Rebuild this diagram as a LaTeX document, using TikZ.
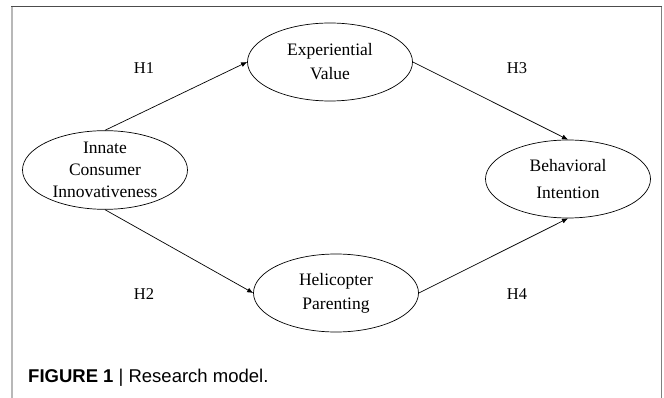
\documentclass[tikz,border=0pt]{standalone}
\usepackage{fontspec}
\setmainfont{Liberation Serif}
\setsansfont{Liberation Sans}
\usetikzlibrary{shapes.geometric,arrows.meta}
\begin{document}
\begin{tikzpicture}[x=1pt,y=-1pt,
  construct/.style={ellipse,draw,line width=0.7pt,minimum width=165pt,minimum height=78pt,inner sep=0pt,align=center,font=\fontsize{17.5}{24}\selectfont},
  hyp/.style={font=\fontsize{16.5}{20}\selectfont},
  link/.style={line width=0.7pt,-{Latex[length=6pt,width=5pt]}}]
\useasboundingbox (0,0) rectangle (664,398);
% frame
\draw[line width=2pt,color=black!28] (12,6) -- (12,398);
\draw[line width=1pt,color=black!50] (661.5,6) -- (661.5,398);
\draw[line width=1.5pt,color=black!70] (11,6.5) -- (662,6.5);
% constructs
\node[construct] (exp) at (330,62) {Experiential\\Value};
\node[construct,font=\fontsize{17.5}{22}\selectfont] (ici) at (105,170) {Innate\\Consumer\\Innovativeness};
\node[construct,font=\fontsize{17.5}{27}\selectfont] (bi) at (568,179) {Behavioral\\Intention};
\node[construct] (hp) at (336,293) {Helicopter\\Parenting};
% links
\draw[link] (ici.north) -- (exp.west);
\draw[link] (ici.south) -- (hp.west);
\draw[link] (exp.east) -- (bi.north);
\draw[link] (hp.east) -- (bi.south);
% labels
\node[hyp] (h1) at (144,68) {H1};
\node[hyp] (h3) at (517,68) {H3};
\node[hyp] (h2) at (144,294) {H2};
\node[hyp] (h4) at (517,294) {H4};
% caption
\node[anchor=west,inner sep=0pt,font=\sffamily\fontsize{18.5}{20}\selectfont] (cap) at (28,378) {\textbf{FIGURE 1} | Research model.};
\end{tikzpicture}
\end{document}
